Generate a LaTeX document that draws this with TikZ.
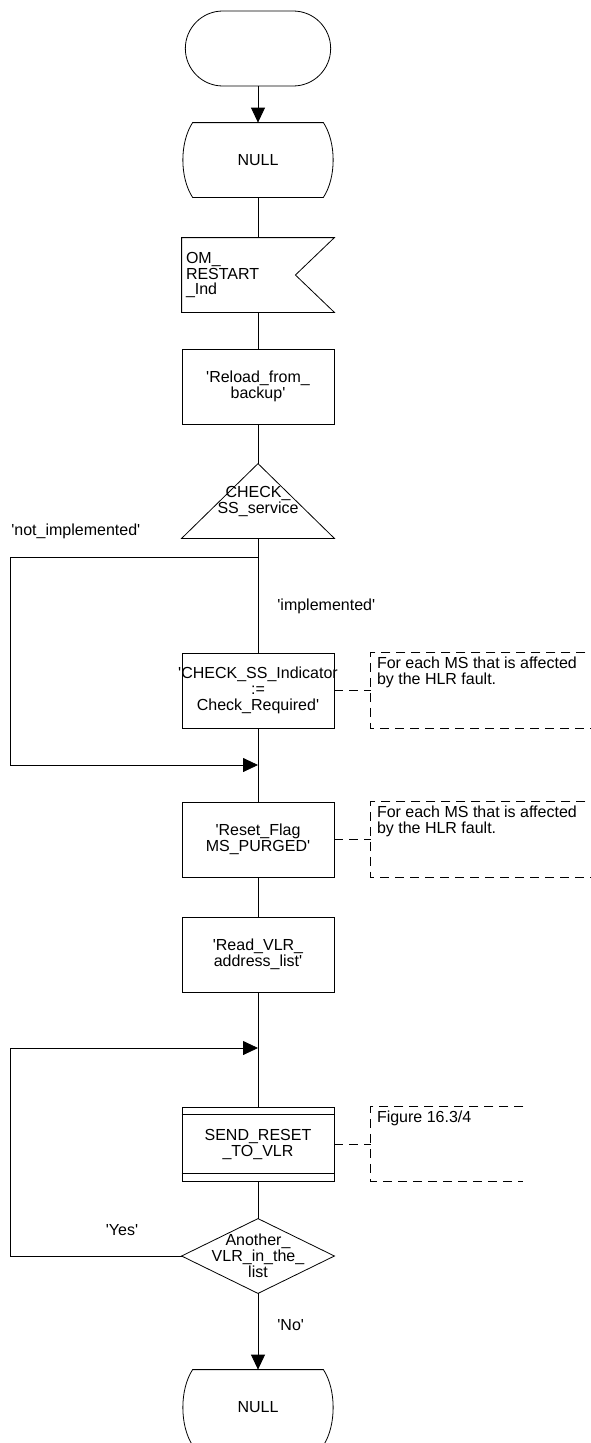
\documentclass[tikz,border=0pt]{standalone}
\usepackage{fontspec}
\setmainfont{Liberation Sans}[Ligatures=TeXOff]
\usetikzlibrary{arrows.meta, shapes.misc}

\newcommand{\stateoutline}[1]{\draw ([xshift=10pt]#1.north west) -- ([xshift=-10pt]#1.north east) .. controls +(13,20) and +(13,-20) .. ([xshift=-10pt]#1.south east) -- ([xshift=10pt]#1.south west) .. controls +(-13,-20) and +(-13,20) .. ([xshift=10pt]#1.north west) -- cycle;}

\begin{document}
\begin{tikzpicture}[x=1pt, y=-1pt, font=\fontsize{16}{16}\selectfont, >={Triangle[length=15pt,width=14pt]}, line width=0.8pt,
   bx/.style={draw, rectangle, minimum width=152pt, minimum height=75pt, text width=144pt, align=center, inner sep=4pt},
   hid/.style={rectangle, minimum width=152pt, minimum height=74pt, inner sep=0pt, align=center},
   cmline/.style={dash pattern=on 9pt off 6pt, line width=0.7pt},
   cmbox/.style={rectangle, minimum height=75pt, inner sep=0pt},
   cmtxt/.style={anchor=north west, inner sep=0pt, align=left},
   lbl/.style={inner sep=0pt}]
\useasboundingbox (0,0) rectangle (591,1443);

\node[draw, rounded rectangle, minimum width=152pt, minimum height=75pt] (start) at (258,48.5) {};
\node[hid, minimum width=150pt] (null1) at (258,160) {NULL};
\stateoutline{null1}
\node[hid, text width=144pt, align=left, inner xsep=4pt] (inp) at (258,275) {OM\_\\RESTART\\\_Ind};
\draw (inp.north west) -- (inp.north east) -- ([xshift=-39pt]inp.east) -- (inp.south east) -- (inp.south west) -- cycle;
\node[bx] (reload) at (258,386.5) {'Reload\_from\_\\backup'};
\node[hid] (chk) at (258,501) {CHECK\_\\SS\_service};
\draw (chk.north) -- (chk.south east) -- (chk.south west) -- cycle;
\node[bx] (chkind) at (258,690.5) {\makebox[144pt]{'CHECK\_SS\_Indicator}\\:=\\Check\_Required'};
\node[bx] (reset) at (258,839.5) {'Reset\_Flag\\MS\_PURGED'};
\node[bx] (readvlr) at (258,954.5) {'Read\_VLR\_\\address\_list'};
\node[bx, minimum height=74pt] (sendrst) at (258,1144) {SEND\_RESET\\\_TO\_VLR};
\draw ([yshift=-8pt]sendrst.north west) -- ([yshift=-8pt]sendrst.north east);
\draw ([yshift=8pt]sendrst.south west) -- ([yshift=8pt]sendrst.south east);
\node[hid] (another) at (258,1256) {Another\_\\VLR\_in\_the\_\\list};
\draw (another.north) -- (another.east) -- (another.south) -- (another.west) -- cycle;
\node[hid, minimum width=150pt, minimum height=75pt] (null2) at (258,1407.5) {NULL};
\stateoutline{null2}

\node[cmbox, minimum width=229pt] (com1) at (485.5,690.5) {};
\draw[cmline] (com1.north east) -- (com1.north west) -- (com1.south west) -- (com1.south east);
\node[cmtxt] (com1t) at ([shift={(6,4)}]com1.north west) {For each MS that is affected\\by the HLR fault.};
\node[cmbox, minimum width=229pt] (com2) at (485.5,839.5) {};
\draw[cmline] (com2.north east) -- (com2.north west) -- (com2.south west) -- (com2.south east);
\node[cmtxt] (com2t) at ([shift={(6,4)}]com2.north west) {For each MS that is affected\\by the HLR fault.};
\node[cmbox, minimum width=152pt, minimum height=74pt] (com3) at (447,1144) {};
\draw[cmline] (com3.north east) -- (com3.north west) -- (com3.south west) -- (com3.south east);
\node[cmtxt] (com3t) at ([shift={(6,4)}]com3.north west) {Figure 16.3/4};

\draw[->] (start) -- (null1);
\draw (null1) -- (inp);
\draw (inp) -- (reload);
\draw (reload) -- (chk.north);
\draw (chk.south) -- (chkind);
\draw (chkind) -- (reset);
\draw (reset) -- (readvlr);
\draw (readvlr) -- (sendrst);
\draw (sendrst) -- (another.north);
\draw[->] (another.south) -- (null2);
\draw[cmline] (chkind.east) -- (com1.west);
\draw[cmline] (reset.east) -- (com2.west);
\draw[cmline] (sendrst.east) -- (com3.west);

\coordinate (br1) at (258,557);
\coordinate (lp1) at (10,765);
\coordinate (mg1) at (258,765);
\draw[->] (br1) -| (lp1) -- (mg1);
\coordinate (lp2) at (10,1048);
\coordinate (mg2) at (258,1048);
\draw[->] (another.west) -| (lp2) -- (mg2);

\node[lbl, anchor=west] (notimp) at (11,531) {'not\_implemented'};
\node[lbl, anchor=west] (imp) at (277,606) {'implemented'};
\node[lbl] (yes) at (122,1230) {'Yes'};
\node[lbl, anchor=west] (no) at (277,1325) {'No'};
\end{tikzpicture}
\end{document}
